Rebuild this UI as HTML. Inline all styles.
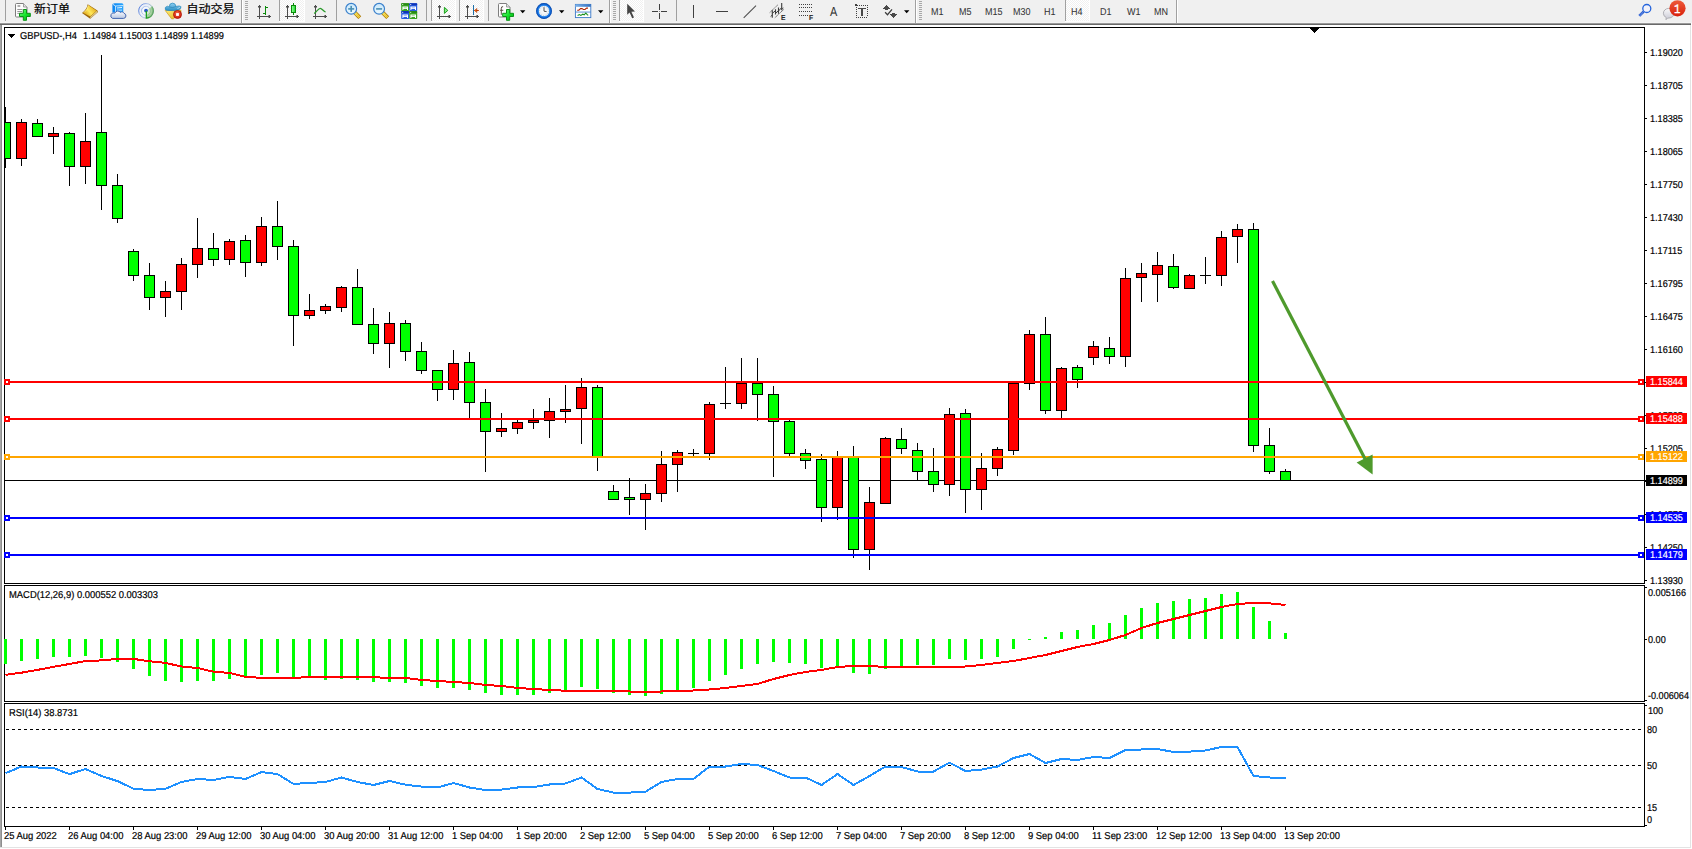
<!DOCTYPE html>
<html lang="zh-CN"><head><meta charset="utf-8"><title>GBPUSD-,H4</title>
<style>
html,body{margin:0;padding:0;background:#F0F0F0;width:1692px;height:849px;overflow:hidden}
body{position:relative;font-family:"Liberation Sans","Noto Sans CJK SC",sans-serif}
#chart{position:absolute;left:0;top:0}
.bx{position:absolute;left:1646px;width:41px;height:11px}
.t{position:absolute;font-size:10px;line-height:11px;height:11px;white-space:pre;text-rendering:geometricPrecision;transform-origin:0 0;-webkit-text-stroke:0.2px currentColor}

#tb{position:absolute;left:0;top:0;width:1692px;height:25px;overflow:hidden}
#tbsvg{position:absolute;left:0;top:0}
.cj{position:absolute;top:2.4px;height:16px;line-height:16px;font-size:12px;color:#000;white-space:pre;font-family:"Liberation Sans","Noto Sans CJK SC",sans-serif;transform:scaleY(0.95);transform-origin:0 0;-webkit-text-stroke:0.22px #000}
.tf{position:absolute;top:5px;height:12px;line-height:12px;font-size:10px;color:#333;white-space:pre;text-rendering:geometricPrecision;transform-origin:0 0;-webkit-text-stroke:0.05px #333}
</style></head>
<body>
<svg id="chart" width="1692" height="849" viewBox="0 0 1692 849" shape-rendering="crispEdges">
<rect x="0" y="25" width="1692" height="824" fill="#FFFFFF"/>
<rect x="0" y="25" width="1" height="824" fill="#A6A6A6"/>
<rect x="1" y="25" width="1" height="824" fill="#8E8E8E"/>
<rect x="1690" y="25" width="1" height="823" fill="#E3E3E3"/>
<rect x="0" y="847" width="1691" height="1" fill="#E3E3E3"/>
<rect x="0" y="848" width="1692" height="1" fill="#FFFFFF"/>
<rect x="1691" y="25" width="1" height="824" fill="#FFFFFF"/>
<rect x="4" y="27" width="1641" height="1" fill="#000"/><rect x="4" y="583" width="1641" height="1" fill="#000"/><rect x="4" y="27" width="1" height="557" fill="#000"/><rect x="1644" y="27" width="1" height="557" fill="#000"/>
<rect x="4" y="585" width="1641" height="1" fill="#000"/><rect x="4" y="701" width="1641" height="1" fill="#000"/><rect x="4" y="585" width="1" height="117" fill="#000"/><rect x="1644" y="585" width="1" height="117" fill="#000"/>
<rect x="4" y="703" width="1641" height="1" fill="#000"/><rect x="4" y="826" width="1641" height="1" fill="#000"/><rect x="4" y="703" width="1" height="124" fill="#000"/><rect x="1644" y="703" width="1" height="124" fill="#000"/>
<rect x="5" y="480" width="1641" height="1" fill="#000"/>
<clipPath id="cm"><rect x="5" y="28" width="1639" height="555"/></clipPath>
<g clip-path="url(#cm)"><rect x="5" y="107" width="1" height="61" fill="#000"/><rect x="0" y="122" width="11" height="37" fill="#000"/><rect x="1" y="123" width="9" height="35" fill="#00FF00"/><rect x="21" y="119" width="1" height="47" fill="#000"/><rect x="16" y="122" width="11" height="37" fill="#000"/><rect x="17" y="123" width="9" height="35" fill="#FF0000"/><rect x="37" y="119" width="1" height="18" fill="#000"/><rect x="32" y="123" width="11" height="14" fill="#000"/><rect x="33" y="124" width="9" height="12" fill="#00FF00"/><rect x="53" y="127" width="1" height="27" fill="#000"/><rect x="48" y="133" width="11" height="4" fill="#000"/><rect x="49" y="134" width="9" height="2" fill="#FF0000"/><rect x="69" y="132" width="1" height="54" fill="#000"/><rect x="64" y="133" width="11" height="34" fill="#000"/><rect x="65" y="134" width="9" height="32" fill="#00FF00"/><rect x="85" y="113" width="1" height="71" fill="#000"/><rect x="80" y="141" width="11" height="26" fill="#000"/><rect x="81" y="142" width="9" height="24" fill="#FF0000"/><rect x="101" y="55" width="1" height="155" fill="#000"/><rect x="96" y="132" width="11" height="54" fill="#000"/><rect x="97" y="133" width="9" height="52" fill="#00FF00"/><rect x="117" y="174" width="1" height="49" fill="#000"/><rect x="112" y="185" width="11" height="34" fill="#000"/><rect x="113" y="186" width="9" height="32" fill="#00FF00"/><rect x="133" y="249" width="1" height="32" fill="#000"/><rect x="128" y="251" width="11" height="25" fill="#000"/><rect x="129" y="252" width="9" height="23" fill="#00FF00"/><rect x="149" y="263" width="1" height="47" fill="#000"/><rect x="144" y="275" width="11" height="23" fill="#000"/><rect x="145" y="276" width="9" height="21" fill="#00FF00"/><rect x="165" y="281" width="1" height="36" fill="#000"/><rect x="160" y="291" width="11" height="7" fill="#000"/><rect x="161" y="292" width="9" height="5" fill="#FF0000"/><rect x="181" y="258" width="1" height="52" fill="#000"/><rect x="176" y="264" width="11" height="28" fill="#000"/><rect x="177" y="265" width="9" height="26" fill="#FF0000"/><rect x="197" y="218" width="1" height="60" fill="#000"/><rect x="192" y="248" width="11" height="17" fill="#000"/><rect x="193" y="249" width="9" height="15" fill="#FF0000"/><rect x="213" y="233" width="1" height="33" fill="#000"/><rect x="208" y="248" width="11" height="12" fill="#000"/><rect x="209" y="249" width="9" height="10" fill="#00FF00"/><rect x="229" y="239" width="1" height="26" fill="#000"/><rect x="224" y="241" width="11" height="19" fill="#000"/><rect x="225" y="242" width="9" height="17" fill="#FF0000"/><rect x="245" y="235" width="1" height="42" fill="#000"/><rect x="240" y="240" width="11" height="23" fill="#000"/><rect x="241" y="241" width="9" height="21" fill="#00FF00"/><rect x="261" y="217" width="1" height="49" fill="#000"/><rect x="256" y="226" width="11" height="37" fill="#000"/><rect x="257" y="227" width="9" height="35" fill="#FF0000"/><rect x="277" y="201" width="1" height="59" fill="#000"/><rect x="272" y="226" width="11" height="21" fill="#000"/><rect x="273" y="227" width="9" height="19" fill="#00FF00"/><rect x="293" y="240" width="1" height="106" fill="#000"/><rect x="288" y="246" width="11" height="70" fill="#000"/><rect x="289" y="247" width="9" height="68" fill="#00FF00"/><rect x="309" y="294" width="1" height="25" fill="#000"/><rect x="304" y="310" width="11" height="6" fill="#000"/><rect x="305" y="311" width="9" height="4" fill="#FF0000"/><rect x="325" y="304" width="1" height="10" fill="#000"/><rect x="320" y="306" width="11" height="5" fill="#000"/><rect x="321" y="307" width="9" height="3" fill="#FF0000"/><rect x="341" y="286" width="1" height="26" fill="#000"/><rect x="336" y="287" width="11" height="21" fill="#000"/><rect x="337" y="288" width="9" height="19" fill="#FF0000"/><rect x="357" y="269" width="1" height="56" fill="#000"/><rect x="352" y="287" width="11" height="38" fill="#000"/><rect x="353" y="288" width="9" height="36" fill="#00FF00"/><rect x="373" y="308" width="1" height="46" fill="#000"/><rect x="368" y="324" width="11" height="20" fill="#000"/><rect x="369" y="325" width="9" height="18" fill="#00FF00"/><rect x="389" y="312" width="1" height="56" fill="#000"/><rect x="384" y="323" width="11" height="21" fill="#000"/><rect x="385" y="324" width="9" height="19" fill="#FF0000"/><rect x="405" y="320" width="1" height="41" fill="#000"/><rect x="400" y="323" width="11" height="29" fill="#000"/><rect x="401" y="324" width="9" height="27" fill="#00FF00"/><rect x="421" y="342" width="1" height="32" fill="#000"/><rect x="416" y="351" width="11" height="20" fill="#000"/><rect x="417" y="352" width="9" height="18" fill="#00FF00"/><rect x="437" y="370" width="1" height="31" fill="#000"/><rect x="432" y="370" width="11" height="20" fill="#000"/><rect x="433" y="371" width="9" height="18" fill="#00FF00"/><rect x="453" y="350" width="1" height="50" fill="#000"/><rect x="448" y="363" width="11" height="27" fill="#000"/><rect x="449" y="364" width="9" height="25" fill="#FF0000"/><rect x="469" y="352" width="1" height="67" fill="#000"/><rect x="464" y="362" width="11" height="41" fill="#000"/><rect x="465" y="363" width="9" height="39" fill="#00FF00"/><rect x="485" y="389" width="1" height="83" fill="#000"/><rect x="480" y="402" width="11" height="30" fill="#000"/><rect x="481" y="403" width="9" height="28" fill="#00FF00"/><rect x="501" y="413" width="1" height="24" fill="#000"/><rect x="496" y="428" width="11" height="4" fill="#000"/><rect x="497" y="429" width="9" height="2" fill="#FF0000"/><rect x="517" y="420" width="1" height="14" fill="#000"/><rect x="512" y="422" width="11" height="7" fill="#000"/><rect x="513" y="423" width="9" height="5" fill="#FF0000"/><rect x="533" y="409" width="1" height="20" fill="#000"/><rect x="528" y="420" width="11" height="3" fill="#000"/><rect x="529" y="421" width="9" height="1" fill="#FF0000"/><rect x="549" y="398" width="1" height="40" fill="#000"/><rect x="544" y="411" width="11" height="10" fill="#000"/><rect x="545" y="412" width="9" height="8" fill="#FF0000"/><rect x="565" y="385" width="1" height="38" fill="#000"/><rect x="560" y="409" width="11" height="3" fill="#000"/><rect x="561" y="410" width="9" height="1" fill="#FF0000"/><rect x="581" y="378" width="1" height="66" fill="#000"/><rect x="576" y="387" width="11" height="22" fill="#000"/><rect x="577" y="388" width="9" height="20" fill="#FF0000"/><rect x="597" y="385" width="1" height="86" fill="#000"/><rect x="592" y="387" width="11" height="70" fill="#000"/><rect x="593" y="388" width="9" height="68" fill="#00FF00"/><rect x="613" y="485" width="1" height="15" fill="#000"/><rect x="608" y="491" width="11" height="9" fill="#000"/><rect x="609" y="492" width="9" height="7" fill="#00FF00"/><rect x="629" y="478" width="1" height="37" fill="#000"/><rect x="624" y="497" width="11" height="3" fill="#000"/><rect x="625" y="498" width="9" height="1" fill="#00FF00"/><rect x="645" y="484" width="1" height="46" fill="#000"/><rect x="640" y="493" width="11" height="7" fill="#000"/><rect x="641" y="494" width="9" height="5" fill="#FF0000"/><rect x="661" y="451" width="1" height="51" fill="#000"/><rect x="656" y="464" width="11" height="30" fill="#000"/><rect x="657" y="465" width="9" height="28" fill="#FF0000"/><rect x="677" y="450" width="1" height="42" fill="#000"/><rect x="672" y="452" width="11" height="13" fill="#000"/><rect x="673" y="453" width="9" height="11" fill="#FF0000"/><rect x="693" y="449" width="1" height="7" fill="#000"/><rect x="688" y="453" width="11" height="1" fill="#000"/><rect x="709" y="402" width="1" height="58" fill="#000"/><rect x="704" y="404" width="11" height="50" fill="#000"/><rect x="705" y="405" width="9" height="48" fill="#FF0000"/><rect x="725" y="367" width="1" height="42" fill="#000"/><rect x="720" y="403" width="11" height="1" fill="#000"/><rect x="741" y="358" width="1" height="51" fill="#000"/><rect x="736" y="383" width="11" height="21" fill="#000"/><rect x="737" y="384" width="9" height="19" fill="#FF0000"/><rect x="757" y="358" width="1" height="63" fill="#000"/><rect x="752" y="383" width="11" height="12" fill="#000"/><rect x="753" y="384" width="9" height="10" fill="#00FF00"/><rect x="773" y="386" width="1" height="91" fill="#000"/><rect x="768" y="394" width="11" height="28" fill="#000"/><rect x="769" y="395" width="9" height="26" fill="#00FF00"/><rect x="789" y="420" width="1" height="37" fill="#000"/><rect x="784" y="421" width="11" height="33" fill="#000"/><rect x="785" y="422" width="9" height="31" fill="#00FF00"/><rect x="805" y="449" width="1" height="20" fill="#000"/><rect x="800" y="453" width="11" height="8" fill="#000"/><rect x="801" y="454" width="9" height="6" fill="#00FF00"/><rect x="821" y="454" width="1" height="68" fill="#000"/><rect x="816" y="459" width="11" height="49" fill="#000"/><rect x="817" y="460" width="9" height="47" fill="#00FF00"/><rect x="837" y="451" width="1" height="69" fill="#000"/><rect x="832" y="457" width="11" height="51" fill="#000"/><rect x="833" y="458" width="9" height="49" fill="#FF0000"/><rect x="853" y="446" width="1" height="112" fill="#000"/><rect x="848" y="457" width="11" height="93" fill="#000"/><rect x="849" y="458" width="9" height="91" fill="#00FF00"/><rect x="869" y="487" width="1" height="83" fill="#000"/><rect x="864" y="502" width="11" height="48" fill="#000"/><rect x="865" y="503" width="9" height="46" fill="#FF0000"/><rect x="885" y="437" width="1" height="67" fill="#000"/><rect x="880" y="438" width="11" height="66" fill="#000"/><rect x="881" y="439" width="9" height="64" fill="#FF0000"/><rect x="901" y="428" width="1" height="26" fill="#000"/><rect x="896" y="439" width="11" height="10" fill="#000"/><rect x="897" y="440" width="9" height="8" fill="#00FF00"/><rect x="917" y="443" width="1" height="38" fill="#000"/><rect x="912" y="450" width="11" height="22" fill="#000"/><rect x="913" y="451" width="9" height="20" fill="#00FF00"/><rect x="933" y="448" width="1" height="44" fill="#000"/><rect x="928" y="471" width="11" height="14" fill="#000"/><rect x="929" y="472" width="9" height="12" fill="#00FF00"/><rect x="949" y="408" width="1" height="88" fill="#000"/><rect x="944" y="414" width="11" height="71" fill="#000"/><rect x="945" y="415" width="9" height="69" fill="#FF0000"/><rect x="965" y="409" width="1" height="104" fill="#000"/><rect x="960" y="413" width="11" height="77" fill="#000"/><rect x="961" y="414" width="9" height="75" fill="#00FF00"/><rect x="981" y="453" width="1" height="57" fill="#000"/><rect x="976" y="468" width="11" height="22" fill="#000"/><rect x="977" y="469" width="9" height="20" fill="#FF0000"/><rect x="997" y="447" width="1" height="29" fill="#000"/><rect x="992" y="449" width="11" height="20" fill="#000"/><rect x="993" y="450" width="9" height="18" fill="#FF0000"/><rect x="1013" y="383" width="1" height="72" fill="#000"/><rect x="1008" y="383" width="11" height="68" fill="#000"/><rect x="1009" y="384" width="9" height="66" fill="#FF0000"/><rect x="1029" y="330" width="1" height="60" fill="#000"/><rect x="1024" y="334" width="11" height="50" fill="#000"/><rect x="1025" y="335" width="9" height="48" fill="#FF0000"/><rect x="1045" y="317" width="1" height="97" fill="#000"/><rect x="1040" y="334" width="11" height="77" fill="#000"/><rect x="1041" y="335" width="9" height="75" fill="#00FF00"/><rect x="1061" y="367" width="1" height="51" fill="#000"/><rect x="1056" y="368" width="11" height="43" fill="#000"/><rect x="1057" y="369" width="9" height="41" fill="#FF0000"/><rect x="1077" y="365" width="1" height="23" fill="#000"/><rect x="1072" y="367" width="11" height="13" fill="#000"/><rect x="1073" y="368" width="9" height="11" fill="#00FF00"/><rect x="1093" y="341" width="1" height="24" fill="#000"/><rect x="1088" y="346" width="11" height="12" fill="#000"/><rect x="1089" y="347" width="9" height="10" fill="#FF0000"/><rect x="1109" y="337" width="1" height="27" fill="#000"/><rect x="1104" y="348" width="11" height="9" fill="#000"/><rect x="1105" y="349" width="9" height="7" fill="#00FF00"/><rect x="1125" y="268" width="1" height="99" fill="#000"/><rect x="1120" y="278" width="11" height="79" fill="#000"/><rect x="1121" y="279" width="9" height="77" fill="#FF0000"/><rect x="1141" y="263" width="1" height="39" fill="#000"/><rect x="1136" y="273" width="11" height="5" fill="#000"/><rect x="1137" y="274" width="9" height="3" fill="#FF0000"/><rect x="1157" y="252" width="1" height="50" fill="#000"/><rect x="1152" y="265" width="11" height="10" fill="#000"/><rect x="1153" y="266" width="9" height="8" fill="#FF0000"/><rect x="1173" y="254" width="1" height="35" fill="#000"/><rect x="1168" y="266" width="11" height="22" fill="#000"/><rect x="1169" y="267" width="9" height="20" fill="#00FF00"/><rect x="1189" y="274" width="1" height="15" fill="#000"/><rect x="1184" y="275" width="11" height="14" fill="#000"/><rect x="1185" y="276" width="9" height="12" fill="#FF0000"/><rect x="1205" y="257" width="1" height="27" fill="#000"/><rect x="1200" y="275" width="11" height="1" fill="#000"/><rect x="1221" y="231" width="1" height="55" fill="#000"/><rect x="1216" y="237" width="11" height="39" fill="#000"/><rect x="1217" y="238" width="9" height="37" fill="#FF0000"/><rect x="1237" y="224" width="1" height="39" fill="#000"/><rect x="1232" y="229" width="11" height="8" fill="#000"/><rect x="1233" y="230" width="9" height="6" fill="#FF0000"/><rect x="1253" y="223" width="1" height="229" fill="#000"/><rect x="1248" y="229" width="11" height="217" fill="#000"/><rect x="1249" y="230" width="9" height="215" fill="#00FF00"/><rect x="1269" y="428" width="1" height="46" fill="#000"/><rect x="1264" y="445" width="11" height="27" fill="#000"/><rect x="1265" y="446" width="9" height="25" fill="#00FF00"/><rect x="1285" y="469" width="1" height="12" fill="#000"/><rect x="1280" y="471" width="11" height="10" fill="#000"/><rect x="1281" y="472" width="9" height="8" fill="#00FF00"/></g>
<rect x="5" y="381" width="1639" height="2" fill="#FF0000"/>
<rect x="4" y="379" width="6" height="6" fill="#FF0000"/>
<rect x="6" y="381" width="2" height="2" fill="#FFF"/>
<rect x="1638" y="379" width="6" height="6" fill="#FF0000"/>
<rect x="1640" y="381" width="2" height="2" fill="#FFF"/>
<rect x="5" y="418" width="1639" height="2" fill="#FF0000"/>
<rect x="4" y="416" width="6" height="6" fill="#FF0000"/>
<rect x="6" y="418" width="2" height="2" fill="#FFF"/>
<rect x="1638" y="416" width="6" height="6" fill="#FF0000"/>
<rect x="1640" y="418" width="2" height="2" fill="#FFF"/>
<rect x="5" y="456" width="1639" height="2" fill="#FFA500"/>
<rect x="4" y="454" width="6" height="6" fill="#FFA500"/>
<rect x="6" y="456" width="2" height="2" fill="#FFF"/>
<rect x="1638" y="454" width="6" height="6" fill="#FFA500"/>
<rect x="1640" y="456" width="2" height="2" fill="#FFF"/>
<rect x="5" y="517" width="1639" height="2" fill="#0000FF"/>
<rect x="4" y="515" width="6" height="6" fill="#0000FF"/>
<rect x="6" y="517" width="2" height="2" fill="#FFF"/>
<rect x="1638" y="515" width="6" height="6" fill="#0000FF"/>
<rect x="1640" y="517" width="2" height="2" fill="#FFF"/>
<rect x="5" y="554" width="1639" height="2" fill="#0000FF"/>
<rect x="4" y="552" width="6" height="6" fill="#0000FF"/>
<rect x="6" y="554" width="2" height="2" fill="#FFF"/>
<rect x="1638" y="552" width="6" height="6" fill="#0000FF"/>
<rect x="1640" y="554" width="2" height="2" fill="#FFF"/>
<g shape-rendering="geometricPrecision"><line x1="1272.5" y1="281" x2="1365.1" y2="459" stroke="#4E9A2C" stroke-width="3.2"/><polygon points="1356.6,462.6 1372.6,454.6 1372.6,474.5" fill="#4E9A2C"/></g>
<rect x="8" y="34" width="7" height="1" fill="#000"/>
<rect x="9" y="35" width="5" height="1" fill="#000"/>
<rect x="10" y="36" width="3" height="1" fill="#000"/>
<rect x="11" y="37" width="1" height="1" fill="#000"/>
<rect x="1310" y="28" width="9" height="1" fill="#000"/>
<rect x="1311" y="29" width="7" height="1" fill="#000"/>
<rect x="1312" y="30" width="5" height="1" fill="#000"/>
<rect x="1313" y="31" width="3" height="1" fill="#000"/>
<rect x="1314" y="32" width="1" height="1" fill="#000"/>
<rect x="1645" y="52" width="2" height="1" fill="#000"/>
<rect x="1645" y="85" width="2" height="1" fill="#000"/>
<rect x="1645" y="118" width="2" height="1" fill="#000"/>
<rect x="1645" y="151" width="2" height="1" fill="#000"/>
<rect x="1645" y="184" width="2" height="1" fill="#000"/>
<rect x="1645" y="217" width="2" height="1" fill="#000"/>
<rect x="1645" y="250" width="2" height="1" fill="#000"/>
<rect x="1645" y="283" width="2" height="1" fill="#000"/>
<rect x="1645" y="316" width="2" height="1" fill="#000"/>
<rect x="1645" y="349" width="2" height="1" fill="#000"/>
<rect x="1645" y="382" width="2" height="1" fill="#000"/>
<rect x="1645" y="415" width="2" height="1" fill="#000"/>
<rect x="1645" y="448" width="2" height="1" fill="#000"/>
<rect x="1645" y="481" width="2" height="1" fill="#000"/>
<rect x="1645" y="514" width="2" height="1" fill="#000"/>
<rect x="1645" y="547" width="2" height="1" fill="#000"/>
<rect x="1645" y="580" width="2" height="1" fill="#000"/>
<rect x="1645" y="587" width="2" height="1" fill="#000"/>
<rect x="1645" y="639" width="2" height="1" fill="#000"/>
<rect x="1645" y="700" width="2" height="1" fill="#000"/>
<rect x="1645" y="705" width="2" height="1" fill="#000"/>
<rect x="1645" y="825" width="2" height="1" fill="#000"/>
<rect x="4" y="639" width="3" height="25" fill="#00FF00"/>
<rect x="20" y="639" width="3" height="22" fill="#00FF00"/>
<rect x="36" y="639" width="3" height="20" fill="#00FF00"/>
<rect x="52" y="639" width="3" height="18" fill="#00FF00"/>
<rect x="68" y="639" width="3" height="18" fill="#00FF00"/>
<rect x="84" y="639" width="3" height="17" fill="#00FF00"/>
<rect x="100" y="639" width="3" height="19" fill="#00FF00"/>
<rect x="116" y="639" width="3" height="23" fill="#00FF00"/>
<rect x="132" y="639" width="3" height="30" fill="#00FF00"/>
<rect x="148" y="639" width="3" height="37" fill="#00FF00"/>
<rect x="164" y="639" width="3" height="42" fill="#00FF00"/>
<rect x="180" y="639" width="3" height="43" fill="#00FF00"/>
<rect x="196" y="639" width="3" height="42" fill="#00FF00"/>
<rect x="212" y="639" width="3" height="42" fill="#00FF00"/>
<rect x="228" y="639" width="3" height="40" fill="#00FF00"/>
<rect x="244" y="639" width="3" height="38" fill="#00FF00"/>
<rect x="260" y="639" width="3" height="36" fill="#00FF00"/>
<rect x="276" y="639" width="3" height="34" fill="#00FF00"/>
<rect x="292" y="639" width="3" height="38" fill="#00FF00"/>
<rect x="308" y="639" width="3" height="39" fill="#00FF00"/>
<rect x="324" y="639" width="3" height="41" fill="#00FF00"/>
<rect x="340" y="639" width="3" height="40" fill="#00FF00"/>
<rect x="356" y="639" width="3" height="41" fill="#00FF00"/>
<rect x="372" y="639" width="3" height="43" fill="#00FF00"/>
<rect x="388" y="639" width="3" height="43" fill="#00FF00"/>
<rect x="404" y="639" width="3" height="44" fill="#00FF00"/>
<rect x="420" y="639" width="3" height="47" fill="#00FF00"/>
<rect x="436" y="639" width="3" height="49" fill="#00FF00"/>
<rect x="452" y="639" width="3" height="49" fill="#00FF00"/>
<rect x="468" y="639" width="3" height="51" fill="#00FF00"/>
<rect x="484" y="639" width="3" height="54" fill="#00FF00"/>
<rect x="500" y="639" width="3" height="56" fill="#00FF00"/>
<rect x="516" y="639" width="3" height="56" fill="#00FF00"/>
<rect x="532" y="639" width="3" height="56" fill="#00FF00"/>
<rect x="548" y="639" width="3" height="54" fill="#00FF00"/>
<rect x="564" y="639" width="3" height="52" fill="#00FF00"/>
<rect x="580" y="639" width="3" height="48" fill="#00FF00"/>
<rect x="596" y="639" width="3" height="50" fill="#00FF00"/>
<rect x="612" y="639" width="3" height="54" fill="#00FF00"/>
<rect x="628" y="639" width="3" height="56" fill="#00FF00"/>
<rect x="644" y="639" width="3" height="57" fill="#00FF00"/>
<rect x="660" y="639" width="3" height="55" fill="#00FF00"/>
<rect x="676" y="639" width="3" height="52" fill="#00FF00"/>
<rect x="692" y="639" width="3" height="49" fill="#00FF00"/>
<rect x="708" y="639" width="3" height="42" fill="#00FF00"/>
<rect x="724" y="639" width="3" height="36" fill="#00FF00"/>
<rect x="740" y="639" width="3" height="30" fill="#00FF00"/>
<rect x="756" y="639" width="3" height="25" fill="#00FF00"/>
<rect x="772" y="639" width="3" height="23" fill="#00FF00"/>
<rect x="788" y="639" width="3" height="24" fill="#00FF00"/>
<rect x="804" y="639" width="3" height="25" fill="#00FF00"/>
<rect x="820" y="639" width="3" height="29" fill="#00FF00"/>
<rect x="836" y="639" width="3" height="29" fill="#00FF00"/>
<rect x="852" y="639" width="3" height="34" fill="#00FF00"/>
<rect x="868" y="639" width="3" height="35" fill="#00FF00"/>
<rect x="884" y="639" width="3" height="30" fill="#00FF00"/>
<rect x="900" y="639" width="3" height="27" fill="#00FF00"/>
<rect x="916" y="639" width="3" height="26" fill="#00FF00"/>
<rect x="932" y="639" width="3" height="26" fill="#00FF00"/>
<rect x="948" y="639" width="3" height="20" fill="#00FF00"/>
<rect x="964" y="639" width="3" height="21" fill="#00FF00"/>
<rect x="980" y="639" width="3" height="20" fill="#00FF00"/>
<rect x="996" y="639" width="3" height="18" fill="#00FF00"/>
<rect x="1012" y="639" width="3" height="10" fill="#00FF00"/>
<rect x="1028" y="639" width="3" height="1" fill="#00FF00"/>
<rect x="1044" y="637" width="3" height="2" fill="#00FF00"/>
<rect x="1060" y="632" width="3" height="7" fill="#00FF00"/>
<rect x="1076" y="630" width="3" height="9" fill="#00FF00"/>
<rect x="1092" y="625" width="3" height="14" fill="#00FF00"/>
<rect x="1108" y="623" width="3" height="16" fill="#00FF00"/>
<rect x="1124" y="615" width="3" height="24" fill="#00FF00"/>
<rect x="1140" y="608" width="3" height="31" fill="#00FF00"/>
<rect x="1156" y="603" width="3" height="36" fill="#00FF00"/>
<rect x="1172" y="601" width="3" height="38" fill="#00FF00"/>
<rect x="1188" y="599" width="3" height="40" fill="#00FF00"/>
<rect x="1204" y="598" width="3" height="41" fill="#00FF00"/>
<rect x="1220" y="594" width="3" height="45" fill="#00FF00"/>
<rect x="1236" y="592" width="3" height="47" fill="#00FF00"/>
<rect x="1252" y="607" width="3" height="32" fill="#00FF00"/>
<rect x="1268" y="621" width="3" height="18" fill="#00FF00"/>
<rect x="1284" y="633" width="3" height="6" fill="#00FF00"/>
<clipPath id="c2"><rect x="5" y="586" width="1639" height="115"/></clipPath>
<polyline clip-path="url(#c2)" points="5.5,674.8 21.5,672.7 37.5,669.9 53.5,666.8 69.5,664.0 85.5,661.0 101.5,660.4 117.5,658.9 133.5,658.9 149.5,661.3 165.5,662.9 181.5,666.5 197.5,668.0 213.5,671.7 229.5,672.9 245.5,676.9 261.5,677.8 277.5,677.8 293.5,677.8 309.5,677.2 325.5,677.2 341.5,677.2 357.5,677.2 373.5,677.2 389.5,678.0 405.5,678.0 421.5,680.0 437.5,681.0 453.5,682.0 469.5,683.0 485.5,685.0 501.5,686.0 517.5,688.0 533.5,689.0 549.5,690.0 565.5,690.7 581.5,690.7 597.5,690.7 613.5,690.9 629.5,691.5 645.5,692.0 661.5,691.5 677.5,690.9 693.5,690.5 709.5,689.5 725.5,688.0 741.5,686.0 757.5,684.0 773.5,679.0 789.5,675.0 805.5,672.0 821.5,670.0 837.5,667.0 853.5,666.0 869.5,666.0 885.5,667.0 901.5,667.0 917.5,667.0 933.5,667.0 949.5,667.0 965.5,666.5 981.5,665.0 997.5,663.0 1013.5,661.0 1029.5,658.0 1045.5,655.0 1061.5,651.0 1077.5,647.0 1093.5,644.0 1109.5,640.0 1125.5,635.0 1141.5,628.0 1157.5,623.0 1173.5,619.0 1189.5,615.0 1205.5,611.0 1221.5,607.0 1237.5,604.0 1253.5,603.0 1269.5,603.3 1285.5,605.0" fill="none" stroke="#FF0000" stroke-width="2" stroke-linejoin="round" shape-rendering="crispEdges"/>
<line x1="6" y1="729.5" x2="1641" y2="729.5" stroke="#000" stroke-width="1" stroke-dasharray="3 3"/>
<line x1="6" y1="765.5" x2="1641" y2="765.5" stroke="#000" stroke-width="1" stroke-dasharray="3 3"/>
<line x1="6" y1="807.5" x2="1641" y2="807.5" stroke="#000" stroke-width="1" stroke-dasharray="3 3"/>
<clipPath id="c3"><rect x="5" y="704" width="1639" height="122"/></clipPath>
<polyline clip-path="url(#c3)" points="5.5,773.2 21.5,766.5 37.5,767.5 53.5,768.0 69.5,774.1 85.5,769.0 101.5,776.0 117.5,781.1 133.5,788.7 149.5,790.0 165.5,788.7 181.5,782.0 197.5,779.0 213.5,780.0 229.5,776.9 245.5,779.0 261.5,772.0 277.5,774.1 293.5,783.9 309.5,783.0 325.5,782.0 341.5,777.5 357.5,782.0 373.5,785.0 389.5,781.0 405.5,784.7 421.5,786.6 437.5,787.5 453.5,783.0 469.5,787.5 485.5,790.0 501.5,789.6 517.5,787.5 533.5,787.0 549.5,784.5 565.5,783.5 581.5,777.5 597.5,789.0 613.5,792.6 629.5,792.6 645.5,791.7 661.5,782.0 677.5,779.0 693.5,779.0 709.5,766.5 725.5,766.5 741.5,764.0 757.5,765.0 773.5,771.0 789.5,777.5 805.5,777.5 821.5,785.0 837.5,774.0 853.5,785.0 869.5,776.0 885.5,766.5 901.5,767.0 917.5,771.5 933.5,771.5 949.5,762.6 965.5,771.0 981.5,769.6 997.5,766.5 1013.5,758.0 1029.5,754.0 1045.5,763.0 1061.5,759.0 1077.5,760.0 1093.5,757.0 1109.5,758.0 1125.5,750.0 1141.5,749.5 1157.5,749.0 1173.5,752.0 1189.5,751.6 1205.5,750.5 1221.5,747.0 1237.5,747.0 1253.5,776.0 1269.5,777.5 1285.5,777.5" fill="none" stroke="#1E90FF" stroke-width="2" stroke-linejoin="round" shape-rendering="crispEdges"/>
<rect x="5" y="827" width="1" height="3" fill="#000"/>
<rect x="69" y="827" width="1" height="3" fill="#000"/>
<rect x="133" y="827" width="1" height="3" fill="#000"/>
<rect x="197" y="827" width="1" height="3" fill="#000"/>
<rect x="261" y="827" width="1" height="3" fill="#000"/>
<rect x="325" y="827" width="1" height="3" fill="#000"/>
<rect x="389" y="827" width="1" height="3" fill="#000"/>
<rect x="453" y="827" width="1" height="3" fill="#000"/>
<rect x="517" y="827" width="1" height="3" fill="#000"/>
<rect x="581" y="827" width="1" height="3" fill="#000"/>
<rect x="645" y="827" width="1" height="3" fill="#000"/>
<rect x="709" y="827" width="1" height="3" fill="#000"/>
<rect x="773" y="827" width="1" height="3" fill="#000"/>
<rect x="837" y="827" width="1" height="3" fill="#000"/>
<rect x="901" y="827" width="1" height="3" fill="#000"/>
<rect x="965" y="827" width="1" height="3" fill="#000"/>
<rect x="1029" y="827" width="1" height="3" fill="#000"/>
<rect x="1093" y="827" width="1" height="3" fill="#000"/>
<rect x="1157" y="827" width="1" height="3" fill="#000"/>
<rect x="1221" y="827" width="1" height="3" fill="#000"/>
<rect x="1285" y="827" width="1" height="3" fill="#000"/>
</svg>
<div id="labels">
<span class="t" style="left:1649.95px;top:48px;color:#000;transform:scaleX(0.91);">1.19020</span>
<span class="t" style="left:1649.95px;top:81px;color:#000;transform:scaleX(0.91);">1.18705</span>
<span class="t" style="left:1649.95px;top:114px;color:#000;transform:scaleX(0.91);">1.18385</span>
<span class="t" style="left:1649.95px;top:147px;color:#000;transform:scaleX(0.91);">1.18065</span>
<span class="t" style="left:1649.95px;top:180px;color:#000;transform:scaleX(0.91);">1.17750</span>
<span class="t" style="left:1649.95px;top:213px;color:#000;transform:scaleX(0.91);">1.17430</span>
<span class="t" style="left:1649.95px;top:246px;color:#000;transform:scaleX(0.91);">1.17115</span>
<span class="t" style="left:1649.95px;top:279px;color:#000;transform:scaleX(0.91);">1.16795</span>
<span class="t" style="left:1649.95px;top:312px;color:#000;transform:scaleX(0.91);">1.16475</span>
<span class="t" style="left:1649.95px;top:345px;color:#000;transform:scaleX(0.91);">1.16160</span>
<span class="t" style="left:1649.95px;top:378px;color:#000;transform:scaleX(0.91);">1.15840</span>
<span class="t" style="left:1649.95px;top:411px;color:#000;transform:scaleX(0.91);">1.15525</span>
<span class="t" style="left:1649.95px;top:444px;color:#000;transform:scaleX(0.91);">1.15205</span>
<span class="t" style="left:1649.95px;top:477px;color:#000;transform:scaleX(0.91);">1.14885</span>
<span class="t" style="left:1649.95px;top:510px;color:#000;transform:scaleX(0.91);">1.14570</span>
<span class="t" style="left:1649.95px;top:543px;color:#000;transform:scaleX(0.91);">1.14250</span>
<span class="t" style="left:1649.95px;top:576px;color:#000;transform:scaleX(0.91);">1.13930</span>
<div class="bx" style="top:376px;background:#FF0000"></div>
<span class="t" style="left:1649.95px;top:377px;color:#FFF;transform:scaleX(0.91);">1.15844</span>
<div class="bx" style="top:413px;background:#FF0000"></div>
<span class="t" style="left:1649.95px;top:414px;color:#FFF;transform:scaleX(0.91);">1.15488</span>
<div class="bx" style="top:451px;background:#FFA500"></div>
<span class="t" style="left:1649.95px;top:452px;color:#FFF;transform:scaleX(0.91);">1.15122</span>
<div class="bx" style="top:512px;background:#0000FF"></div>
<span class="t" style="left:1649.95px;top:513px;color:#FFF;transform:scaleX(0.91);">1.14535</span>
<div class="bx" style="top:549px;background:#0000FF"></div>
<span class="t" style="left:1649.95px;top:550px;color:#FFF;transform:scaleX(0.91);">1.14179</span>
<div class="bx" style="top:475px;background:#000"></div>
<span class="t" style="left:1649.95px;top:476px;color:#FFF;transform:scaleX(0.91);">1.14899</span>
<span class="t" style="left:1647.95px;top:588px;color:#000;transform:scaleX(0.91);">0.005166</span>
<span class="t" style="left:1647.95px;top:635px;color:#000;transform:scaleX(0.91);">0.00</span>
<span class="t" style="left:1647.95px;top:691px;color:#000;transform:scaleX(0.91);">-0.006064</span>
<span class="t" style="left:1648.45px;top:706px;color:#000;transform:scaleX(0.91);">100</span>
<span class="t" style="left:1647.45px;top:725px;color:#000;transform:scaleX(0.91);">80</span>
<span class="t" style="left:1647.45px;top:761px;color:#000;transform:scaleX(0.91);">50</span>
<span class="t" style="left:1647.45px;top:803px;color:#000;transform:scaleX(0.91);">15</span>
<span class="t" style="left:1647.45px;top:815px;color:#000;transform:scaleX(0.91);">0</span>
<span class="t" style="left:4.436px;top:831px;color:#000;transform:scaleX(0.94);">25 Aug 2022</span>
<span class="t" style="left:68.436px;top:831px;color:#000;transform:scaleX(0.94);">26 Aug 04:00</span>
<span class="t" style="left:132.436px;top:831px;color:#000;transform:scaleX(0.94);">28 Aug 23:00</span>
<span class="t" style="left:196.436px;top:831px;color:#000;transform:scaleX(0.94);">29 Aug 12:00</span>
<span class="t" style="left:260.436px;top:831px;color:#000;transform:scaleX(0.94);">30 Aug 04:00</span>
<span class="t" style="left:324.436px;top:831px;color:#000;transform:scaleX(0.94);">30 Aug 20:00</span>
<span class="t" style="left:388.436px;top:831px;color:#000;transform:scaleX(0.94);">31 Aug 12:00</span>
<span class="t" style="left:452.436px;top:831px;color:#000;transform:scaleX(0.94);">1 Sep 04:00</span>
<span class="t" style="left:516.436px;top:831px;color:#000;transform:scaleX(0.94);">1 Sep 20:00</span>
<span class="t" style="left:580.436px;top:831px;color:#000;transform:scaleX(0.94);">2 Sep 12:00</span>
<span class="t" style="left:644.436px;top:831px;color:#000;transform:scaleX(0.94);">5 Sep 04:00</span>
<span class="t" style="left:708.436px;top:831px;color:#000;transform:scaleX(0.94);">5 Sep 20:00</span>
<span class="t" style="left:772.436px;top:831px;color:#000;transform:scaleX(0.94);">6 Sep 12:00</span>
<span class="t" style="left:836.436px;top:831px;color:#000;transform:scaleX(0.94);">7 Sep 04:00</span>
<span class="t" style="left:900.436px;top:831px;color:#000;transform:scaleX(0.94);">7 Sep 20:00</span>
<span class="t" style="left:964.436px;top:831px;color:#000;transform:scaleX(0.94);">8 Sep 12:00</span>
<span class="t" style="left:1028.44px;top:831px;color:#000;transform:scaleX(0.94);">9 Sep 04:00</span>
<span class="t" style="left:1092.44px;top:831px;color:#000;transform:scaleX(0.94);">11 Sep 23:00</span>
<span class="t" style="left:1156.44px;top:831px;color:#000;transform:scaleX(0.94);">12 Sep 12:00</span>
<span class="t" style="left:1220.44px;top:831px;color:#000;transform:scaleX(0.94);">13 Sep 04:00</span>
<span class="t" style="left:1284.44px;top:831px;color:#000;transform:scaleX(0.94);">13 Sep 20:00</span>
<span class="t" style="left:19.642px;top:31px;color:#000;transform:scaleX(0.93);">GBPUSD-,H4</span>
<span class="t" style="left:83.2468px;top:31px;color:#000;transform:scaleX(0.922);">1.14984 1.15003 1.14899 1.14899</span>
<span class="t" style="left:9.436px;top:590px;color:#000;transform:scaleX(0.94);">MACD(12,26,9) 0.000552 0.003303</span>
<span class="t" style="left:9.436px;top:708px;color:#000;transform:scaleX(0.94);">RSI(14) 38.8731</span>
</div>
<div id="tb">
<svg id="tbsvg" width="1692" height="25" viewBox="0 0 1692 25" shape-rendering="crispEdges"><defs><pattern id="chk" width="2" height="2" patternUnits="userSpaceOnUse"><rect width="2" height="2" fill="#fff"/><rect width="1" height="1" fill="#f0f0f0"/><rect x="1" y="1" width="1" height="1" fill="#f0f0f0"/></pattern><linearGradient id="gplus" x1="0" y1="0" x2="1" y2="1"><stop offset="0" stop-color="#7dff8a"/><stop offset="0.5" stop-color="#16e52c"/><stop offset="1" stop-color="#07a514"/></linearGradient><linearGradient id="gcloud" x1="0" y1="0" x2="0" y2="1"><stop offset="0" stop-color="#ffffff"/><stop offset="1" stop-color="#b9c7e2"/></linearGradient><linearGradient id="gsrv" x1="0" y1="0" x2="1" y2="0"><stop offset="0" stop-color="#0a84f0"/><stop offset="1" stop-color="#2aa6ff"/></linearGradient><linearGradient id="ghat" x1="0" y1="0" x2="0" y2="1"><stop offset="0" stop-color="#8fd0f2"/><stop offset="1" stop-color="#2b8fc4"/></linearGradient><linearGradient id="gface" x1="0" y1="0" x2="1" y2="1"><stop offset="0" stop-color="#fff27a"/><stop offset="1" stop-color="#e0a818"/></linearGradient><radialGradient id="gred" cx="0.45" cy="0.3" r="0.8"><stop offset="0" stop-color="#f0603a"/><stop offset="1" stop-color="#d01808"/></radialGradient><linearGradient id="gbadge" x1="0" y1="0" x2="0" y2="1"><stop offset="0" stop-color="#ee5a3a"/><stop offset="1" stop-color="#d8200c"/></linearGradient><linearGradient id="gcandle" x1="0" y1="0" x2="1" y2="0"><stop offset="0" stop-color="#9dffa0"/><stop offset="1" stop-color="#12d824"/></linearGradient><linearGradient id="glens" x1="0" y1="0" x2="0" y2="1"><stop offset="0" stop-color="#c6e6fb"/><stop offset="1" stop-color="#eefaff"/></linearGradient><linearGradient id="ggold" x1="0" y1="0" x2="1" y2="0"><stop offset="0" stop-color="#f7e060"/><stop offset="1" stop-color="#d89c10"/></linearGradient><radialGradient id="gclock" cx="0.5" cy="0.5" r="0.5"><stop offset="0" stop-color="#ffffff"/><stop offset="0.62" stop-color="#e8eef4"/><stop offset="0.7" stop-color="#2d8cf0"/><stop offset="0.9" stop-color="#0a5fd0"/><stop offset="1" stop-color="#0848a8"/></radialGradient><linearGradient id="gtplt" x1="0" y1="0" x2="1" y2="0"><stop offset="0" stop-color="#7fb4ea"/><stop offset="1" stop-color="#2f6fc0"/></linearGradient><linearGradient id="gchat" x1="0" y1="0" x2="0" y2="1"><stop offset="0" stop-color="#fafafa"/><stop offset="1" stop-color="#c8c8d4"/></linearGradient><radialGradient id="gsig2" gradientUnits="userSpaceOnUse" cx="146" cy="11" r="7.7"><stop offset="0" stop-color="#f4faf0"/><stop offset="0.55" stop-color="#b4dca8"/><stop offset="1" stop-color="#58a850"/></radialGradient><linearGradient id="gbook2" gradientUnits="userSpaceOnUse" x1="84" y1="15" x2="95" y2="6"><stop offset="0" stop-color="#d89a10"/><stop offset="0.45" stop-color="#ffe85a"/><stop offset="1" stop-color="#e0a414"/></linearGradient><radialGradient id="gsig3" gradientUnits="userSpaceOnUse" cx="146" cy="11" r="7.7"><stop offset="0" stop-color="#ffffff"/><stop offset="0.7" stop-color="#eef2fa"/><stop offset="1" stop-color="#dfe6f4"/></radialGradient><linearGradient id="gring" gradientUnits="userSpaceOnUse" x1="138" y1="8" x2="154" y2="14"><stop offset="0" stop-color="#3a68d4" stop-opacity="0.9"/><stop offset="0.45" stop-color="#7a9ce0" stop-opacity="0.45"/><stop offset="0.75" stop-color="#6aa878" stop-opacity="0.6"/><stop offset="1" stop-color="#3a8a48" stop-opacity="0.9"/></linearGradient></defs><rect x="0" y="0" width="1692" height="23" fill="#F0F0F0"/><rect x="0" y="22" width="1692" height="1" fill="#F4F4F4"/><rect x="0" y="23" width="1691" height="1" fill="#9A9A9A"/><rect x="0" y="24" width="1691" height="1" fill="#696969"/><rect x="1691" y="23" width="1" height="2" fill="#FFFFFF"/><rect x="5" y="0" width="1" height="21" fill="#A0A0A0"/><rect x="241" y="0" width="1" height="23" fill="#A0A0A0"/><rect x="242" y="0" width="1" height="23" fill="#FFFFFF"/><rect x="245" y="1" width="3" height="1" fill="#A8A8A8"/><rect x="245" y="3" width="3" height="1" fill="#A8A8A8"/><rect x="245" y="5" width="3" height="1" fill="#A8A8A8"/><rect x="245" y="7" width="3" height="1" fill="#A8A8A8"/><rect x="245" y="9" width="3" height="1" fill="#A8A8A8"/><rect x="245" y="11" width="3" height="1" fill="#A8A8A8"/><rect x="245" y="13" width="3" height="1" fill="#A8A8A8"/><rect x="245" y="15" width="3" height="1" fill="#A8A8A8"/><rect x="245" y="17" width="3" height="1" fill="#A8A8A8"/><rect x="245" y="19" width="3" height="1" fill="#A8A8A8"/><rect x="336" y="0" width="1" height="21" fill="#A0A0A0"/><rect x="426" y="0" width="1" height="21" fill="#A0A0A0"/><rect x="488" y="0" width="1" height="21" fill="#A0A0A0"/><rect x="609" y="0" width="1" height="23" fill="#A0A0A0"/><rect x="610" y="0" width="1" height="23" fill="#FFFFFF"/><rect x="613" y="1" width="3" height="1" fill="#A8A8A8"/><rect x="613" y="3" width="3" height="1" fill="#A8A8A8"/><rect x="613" y="5" width="3" height="1" fill="#A8A8A8"/><rect x="613" y="7" width="3" height="1" fill="#A8A8A8"/><rect x="613" y="9" width="3" height="1" fill="#A8A8A8"/><rect x="613" y="11" width="3" height="1" fill="#A8A8A8"/><rect x="613" y="13" width="3" height="1" fill="#A8A8A8"/><rect x="613" y="15" width="3" height="1" fill="#A8A8A8"/><rect x="613" y="17" width="3" height="1" fill="#A8A8A8"/><rect x="613" y="19" width="3" height="1" fill="#A8A8A8"/><rect x="676" y="0" width="1" height="21" fill="#A0A0A0"/><rect x="915" y="0" width="1" height="23" fill="#A0A0A0"/><rect x="916" y="0" width="1" height="23" fill="#FFFFFF"/><rect x="919" y="1" width="3" height="1" fill="#A8A8A8"/><rect x="919" y="3" width="3" height="1" fill="#A8A8A8"/><rect x="919" y="5" width="3" height="1" fill="#A8A8A8"/><rect x="919" y="7" width="3" height="1" fill="#A8A8A8"/><rect x="919" y="9" width="3" height="1" fill="#A8A8A8"/><rect x="919" y="11" width="3" height="1" fill="#A8A8A8"/><rect x="919" y="13" width="3" height="1" fill="#A8A8A8"/><rect x="919" y="15" width="3" height="1" fill="#A8A8A8"/><rect x="919" y="17" width="3" height="1" fill="#A8A8A8"/><rect x="919" y="19" width="3" height="1" fill="#A8A8A8"/><rect x="1176" y="0" width="1" height="23" fill="#A0A0A0"/><rect x="1177" y="0" width="1" height="23" fill="#FFFFFF"/><rect x="280" y="0" width="24" height="21" fill="url(#chk)"/><rect x="279" y="0" width="1" height="21" fill="#A0A0A0"/><rect x="279" y="21" width="26" height="1" fill="#FFFFFF"/><rect x="304" y="0" width="1" height="21" fill="#FFFFFF"/><rect x="432" y="0" width="23" height="21" fill="url(#chk)"/><rect x="431" y="0" width="1" height="21" fill="#A0A0A0"/><rect x="431" y="21" width="25" height="1" fill="#FFFFFF"/><rect x="455" y="0" width="1" height="21" fill="#FFFFFF"/><rect x="460" y="0" width="23" height="21" fill="url(#chk)"/><rect x="459" y="0" width="1" height="21" fill="#A0A0A0"/><rect x="459" y="21" width="25" height="1" fill="#FFFFFF"/><rect x="483" y="0" width="1" height="21" fill="#FFFFFF"/><rect x="620" y="0" width="23" height="21" fill="url(#chk)"/><rect x="619" y="0" width="1" height="21" fill="#A0A0A0"/><rect x="619" y="21" width="25" height="1" fill="#FFFFFF"/><rect x="643" y="0" width="1" height="21" fill="#FFFFFF"/><rect x="1066" y="0" width="23" height="21" fill="url(#chk)"/><rect x="1065" y="0" width="1" height="21" fill="#A0A0A0"/><rect x="1065" y="21" width="25" height="1" fill="#FFFFFF"/><rect x="1089" y="0" width="1" height="21" fill="#FFFFFF"/><rect x="259" y="5" width="1" height="14" fill="#4d4d4d"/><rect x="257" y="16" width="14" height="1" fill="#4d4d4d"/><rect x="258" y="6" width="3" height="1" fill="#4d4d4d"/><rect x="258" y="7" width="1" height="1" fill="#9a9a9a"/><rect x="260" y="7" width="1" height="1" fill="#9a9a9a"/><rect x="269" y="15" width="1" height="3" fill="#4d4d4d"/><rect x="268" y="15" width="1" height="1" fill="#9a9a9a"/><rect x="268" y="17" width="1" height="1" fill="#9a9a9a"/><rect x="287" y="5" width="1" height="14" fill="#4d4d4d"/><rect x="285" y="16" width="14" height="1" fill="#4d4d4d"/><rect x="286" y="6" width="3" height="1" fill="#4d4d4d"/><rect x="286" y="7" width="1" height="1" fill="#9a9a9a"/><rect x="288" y="7" width="1" height="1" fill="#9a9a9a"/><rect x="297" y="15" width="1" height="3" fill="#4d4d4d"/><rect x="296" y="15" width="1" height="1" fill="#9a9a9a"/><rect x="296" y="17" width="1" height="1" fill="#9a9a9a"/><rect x="315" y="5" width="1" height="14" fill="#4d4d4d"/><rect x="313" y="16" width="14" height="1" fill="#4d4d4d"/><rect x="314" y="6" width="3" height="1" fill="#4d4d4d"/><rect x="314" y="7" width="1" height="1" fill="#9a9a9a"/><rect x="316" y="7" width="1" height="1" fill="#9a9a9a"/><rect x="325" y="15" width="1" height="3" fill="#4d4d4d"/><rect x="324" y="15" width="1" height="1" fill="#9a9a9a"/><rect x="324" y="17" width="1" height="1" fill="#9a9a9a"/><rect x="439" y="5" width="1" height="14" fill="#4d4d4d"/><rect x="437" y="16" width="14" height="1" fill="#4d4d4d"/><rect x="438" y="6" width="3" height="1" fill="#4d4d4d"/><rect x="438" y="7" width="1" height="1" fill="#9a9a9a"/><rect x="440" y="7" width="1" height="1" fill="#9a9a9a"/><rect x="449" y="15" width="1" height="3" fill="#4d4d4d"/><rect x="448" y="15" width="1" height="1" fill="#9a9a9a"/><rect x="448" y="17" width="1" height="1" fill="#9a9a9a"/><rect x="467" y="5" width="1" height="14" fill="#4d4d4d"/><rect x="465" y="16" width="14" height="1" fill="#4d4d4d"/><rect x="466" y="6" width="3" height="1" fill="#4d4d4d"/><rect x="466" y="7" width="1" height="1" fill="#9a9a9a"/><rect x="468" y="7" width="1" height="1" fill="#9a9a9a"/><rect x="477" y="15" width="1" height="3" fill="#4d4d4d"/><rect x="476" y="15" width="1" height="1" fill="#9a9a9a"/><rect x="476" y="17" width="1" height="1" fill="#9a9a9a"/><rect x="265" y="6" width="1" height="9" fill="#0a8a0a"/><rect x="266" y="7" width="2" height="1" fill="#0a8a0a"/><rect x="263" y="13" width="2" height="1" fill="#0a8a0a"/><rect x="293" y="3" width="1" height="12" fill="#0a8a0a"/><rect x="291.5" y="5.5" width="4" height="7" fill="url(#gcandle)" stroke="#0a8a0a" stroke-width="1"/><path d="M314.2,13.6 C316.5,12 318.5,8.2 320.3,8.3 C322,8.4 323.5,11.5 325.6,12" fill="none" stroke="#2a9a2a" stroke-width="1.2" shape-rendering="geometricPrecision"/><polygon points="444.4,7.4 447.8,10.4 444.4,13.4" fill="#86e886" stroke="#0a9a0a" stroke-width="0.9" stroke-linejoin="round" shape-rendering="geometricPrecision"/><rect x="473" y="5" width="1" height="10" fill="#1f6fa8"/><g shape-rendering="geometricPrecision"><path d="M474.5,10.5 L478.8,10.5" stroke="#c03800" stroke-width="1.1"/><polygon points="474.3,10.5 477,8.4 476.4,10.5 477,12.6" fill="#f06a08" stroke="#a83000" stroke-width="0.5"/></g><g shape-rendering="geometricPrecision"><path d="M16.5,3.5 h7.0 l3.5,3.5 v9.0 q0,1 -1,1 h-9.5 q-1,0 -1,-1 v-11.5 q0,-1 1,-1 z" fill="#fdfdfd" stroke="#7e7e7e" stroke-width="1"/><path d="M23.5,3.5 v3.5 h3.5" fill="#e4e4e4" stroke="#8a8a8a" stroke-width="0.8"/><rect x="17.5" y="5.3" width="2.8" height="1.4" fill="#8a8a8a"/><rect x="17.3" y="9.1" width="5.2" height="0.9" fill="#8c8c8c"/><rect x="17.3" y="11.0" width="4.9" height="0.9" fill="#8c8c8c"/><rect x="17.3" y="12.899999999999999" width="4.6000000000000005" height="0.9" fill="#8c8c8c"/><path d="M23.3,9.5 h3.2 v3.8 h3.8 v3.2 h-3.8 v3.8 h-3.2 v-3.8 h-3.8 v-3.2 h3.8 z" fill="url(#gplus)" stroke="#0a9416" stroke-width="1" stroke-linejoin="round"/><path d="M87.7,4.2 Q86.9,9.4 82,12.9 L90.2,18.8 L98.1,11.9 L97.4,10.4 z" fill="#9c6608"/><path d="M90.3,17 L96.9,10.9 L97.7,12 L90.4,18.3 z" fill="#f0e4b4"/><path d="M90.5,17.7 L97.3,11.6" stroke="#b08a30" stroke-width="0.4" fill="none"/><path d="M88.1,5 Q87.4,9.6 83,12.7 L90.2,16.6 L96.6,10.7 z" fill="url(#gbook2)"/><path d="M88.3,5.6 Q87.8,9.8 84,12.5" fill="none" stroke="#fff6b0" stroke-width="0.7" opacity="0.8"/><path d="M112.4,4 L114.6,3.2 L122.4,3.2 L123.3,4.4 L123.3,12.5 L112.4,12.5 z" fill="url(#gsrv)"/><path d="M112.6,4.2 L115.6,6 L115.6,12.5 M115.6,6 L123.2,5.6" fill="none" stroke="#d8f0ff" stroke-width="0.9"/><rect x="117" y="7.2" width="5" height="1.1" fill="#e8f6ff" transform="rotate(-6 119.5 7.7)"/><rect x="117" y="9.6" width="5" height="1" fill="#bfe4ff"/><path d="M112.6,18.4 h11 a2.6,2.6 0 0 0 0.4,-5.1 a2.3,2.3 0 0 0 -3.6,-0.9 a3.2,3.2 0 0 0 -5.6,0.7 a2.7,2.7 0 0 0 -2.2,5.3 z" fill="url(#gcloud)" stroke="#4466b0" stroke-width="1"/><circle cx="146" cy="10.8" r="7.8" fill="url(#gsig3)"/><path d="M146,10.8 L146,18.7 A7.9,7.9 0 0 0 152.4,6.2 z" fill="url(#gsig2)" opacity="0.8"/><circle cx="146" cy="10.8" r="7.3" fill="none" stroke="url(#gring)" stroke-width="1"/><circle cx="146" cy="10.8" r="4.5" fill="none" stroke="url(#gring)" stroke-width="1" opacity="0.8"/><circle cx="146" cy="10.6" r="1.9" fill="#2a5cc8"/><path d="M145.7,11 h1.3 v6.6 q3,-0.4 4.6,-1.8 q-2,2.6 -5.9,3 z" fill="#1ea01e"/><path d="M165.2,10.4 L180.8,10 L181,12.4 L173.4,18.8 L171.6,18.8 z" fill="url(#gface)" stroke="#d09a14" stroke-width="0.7"/><path d="M165.3,9.4 Q164.4,7 167.4,6.2 Q168.6,6.6 169.2,6.8 Q169.4,3.2 172.4,3.1 Q175.4,3 176,6.4 Q179.6,5.4 181,6.6 Q181.4,9 178.4,10 Q173,11 167.6,10.4 Q165.8,10.2 165.3,9.4 z" fill="url(#ghat)" stroke="#2a88ba" stroke-width="0.7"/><path d="M169.2,6.9 Q172.6,8.4 176,6.5" fill="none" stroke="#1f78ac" stroke-width="0.7" opacity="0.8"/><path d="M177.4,8.6 Q179.6,7.8 180.2,6.9" fill="none" stroke="#e4f6ff" stroke-width="0.7" opacity="0.9"/><circle cx="177.5" cy="14.5" r="4" fill="url(#gred)" stroke="#a81004" stroke-width="0.8"/><rect x="176.1" y="13.1" width="2.8" height="2.8" fill="#ffffff"/><path d="M354.59999999999997,12.4 L359.8,17.6" stroke="#a87808" stroke-width="4" stroke-linecap="butt"/><path d="M354.8,12.6 L359.59999999999997,17.4" stroke="url(#ggold)" stroke-width="2.6" stroke-linecap="butt"/><path d="M354.8,12.6 L359.59999999999997,17.4" stroke="#f8e458" stroke-width="2.4" stroke-dasharray="0.7 0.7"/><circle cx="351.2" cy="8.8" r="5.4" fill="url(#glens)" stroke="#3a80cc" stroke-width="1.2"/><rect x="348.2" y="8.1" width="6" height="1.6" fill="#4a90b4"/><rect x="350.4" y="5.9" width="1.6" height="6" fill="#4a90b4"/><path d="M382.5,12.4 L387.70000000000005,17.6" stroke="#a87808" stroke-width="4" stroke-linecap="butt"/><path d="M382.70000000000005,12.6 L387.5,17.4" stroke="url(#ggold)" stroke-width="2.6" stroke-linecap="butt"/><path d="M382.70000000000005,12.6 L387.5,17.4" stroke="#f8e458" stroke-width="2.4" stroke-dasharray="0.7 0.7"/><circle cx="379.1" cy="8.8" r="5.4" fill="url(#glens)" stroke="#3a80cc" stroke-width="1.2"/><rect x="376.1" y="8.1" width="6" height="1.6" fill="#4a90b4"/><rect x="401.2" y="3.2" width="8" height="7.9" rx="0.8" fill="#3aa422"/><rect x="401.2" y="3.2" width="8" height="2" rx="0.8" fill="#2a8a14"/><rect x="402.2" y="4.0" width="1" height="1" fill="#e8f4e8"/><path d="M402.4,10.100000000000001 v-3.6 h5.6 v3.6 h-1 v-1 h-3.6 v1 z" fill="#ffffff"/><rect x="403.59999999999997" y="7.4" width="3.2" height="0.9" fill="#3aa422" opacity="0.55"/><rect x="409.2" y="3.2" width="8" height="7.9" rx="0.8" fill="#2a5ee0"/><rect x="409.2" y="3.2" width="8" height="2" rx="0.8" fill="#1034b8"/><rect x="410.2" y="4.0" width="1" height="1" fill="#e8f4e8"/><path d="M410.4,10.100000000000001 v-3.6 h5.6 v3.6 h-1 v-1 h-3.6 v1 z" fill="#ffffff"/><rect x="411.59999999999997" y="7.4" width="3.2" height="0.9" fill="#2a5ee0" opacity="0.55"/><rect x="401.2" y="11.1" width="8" height="7.9" rx="0.8" fill="#2a5ee0"/><rect x="401.2" y="11.1" width="8" height="2" rx="0.8" fill="#1034b8"/><rect x="402.2" y="11.9" width="1" height="1" fill="#e8f4e8"/><path d="M402.4,18.0 v-3.6 h5.6 v3.6 h-1 v-1 h-3.6 v1 z" fill="#ffffff"/><rect x="403.59999999999997" y="15.3" width="3.2" height="0.9" fill="#2a5ee0" opacity="0.55"/><rect x="409.2" y="11.1" width="8" height="7.9" rx="0.8" fill="#3aa422"/><rect x="409.2" y="11.1" width="8" height="2" rx="0.8" fill="#2a8a14"/><rect x="410.2" y="11.9" width="1" height="1" fill="#e8f4e8"/><path d="M410.4,18.0 v-3.6 h5.6 v3.6 h-1 v-1 h-3.6 v1 z" fill="#ffffff"/><rect x="411.59999999999997" y="15.3" width="3.2" height="0.9" fill="#3aa422" opacity="0.55"/><path d="M499.5,3.5 h7.0 l3.5,3.5 v9.0 q0,1 -1,1 h-9.5 q-1,0 -1,-1 v-11.5 q0,-1 1,-1 z" fill="#fdfdfd" stroke="#7e7e7e" stroke-width="1"/><path d="M506.5,3.5 v3.5 h3.5" fill="#e4e4e4" stroke="#8a8a8a" stroke-width="0.8"/><path d="M503.1,6.7 q-1.8,-0.4 -1.8,1.6 v6.5 M500.1,10.3 h3.2" fill="none" stroke="#5a5046" stroke-width="1"/><path d="M506.5,9.5 h3.2 v3.8 h3.8 v3.2 h-3.8 v3.8 h-3.2 v-3.8 h-3.8 v-3.2 h3.8 z" fill="url(#gplus)" stroke="#0a9416" stroke-width="1" stroke-linejoin="round"/><polygon points="520,10.2 525.4,10.2 522.7,13.2" fill="#000"/><polygon points="559,10.2 564.4,10.2 561.7,13.2" fill="#000"/><polygon points="598,10.2 603.4,10.2 600.7,13.2" fill="#000"/><polygon points="904,10.2 909.4,10.2 906.7,13.2" fill="#000"/><circle cx="544" cy="11" r="7.9" fill="url(#gclock)"/><circle cx="544" cy="11" r="7.4" fill="none" stroke="#0a50b8" stroke-width="0.8"/><path d="M544,7.2 V11.2 L546.6,11.6" fill="none" stroke="#3a3a3a" stroke-width="0.9"/><circle cx="544" cy="11" r="4.6" fill="none" stroke="#9aa4b0" stroke-width="0.7" stroke-dasharray="0.6 1.8"/><rect x="575.4" y="4.4" width="15.4" height="13.2" fill="#ffffff" stroke="#3a78c8" stroke-width="0.9"/><rect x="575.4" y="4.4" width="15.4" height="2.4" fill="url(#gtplt)"/><rect x="575.4" y="11.6" width="15.4" height="0.9" fill="#4a86d0"/><path d="M577.2,10.2 h1.6 l1.8,-1.6 h1.4 l1.4,0.9 h1.6 l1.6,-1.4 h1.4" fill="none" stroke="#b02808" stroke-width="1.1"/><path d="M577.6,15.6 l1.8,-1 l1.4,0.8 l2,-1.2 l1.4,0.6 l1.6,-1.8 l1.2,1.4 l1.2,1" fill="none" stroke="#18901c" stroke-width="1.1"/><path d="M627.2,3.8 L627.2,14.8 L629.6,12.6 L632.2,18.2 L634,17.4 L631.4,11.8 L635,11.4 z" fill="#454545"/><path d="M769.7,12.6 L777.8,4.9 M774.8,17.8 L784,9.2" fill="none" stroke="#555" stroke-width="0.9" stroke-dasharray="1.2 0.5"/><path d="M772.3,10.2 V17.8 M775.5,9.2 V14.5 M778.5,7.4 V13.8 M781.7,3.1 V10.2" fill="none" stroke="#3c3c3c" stroke-width="1.1"/><path d="M770.6,16.6 L772.3,15 M772.3,13.4 L775.5,10.6 M775.5,13.6 L778.5,10.4 M778.5,11 L781.7,7.6 M781.7,9.4 L783.4,8" fill="none" stroke="#3c3c3c" stroke-width="1"/><path d="M743.7,17.8 L756,5.6" stroke="#505050" stroke-width="1.1"/><path d="M885.1,12.3 L887.5,14.7 L892,9.3" fill="none" stroke="#3c3c3c" stroke-width="1.25"/><path d="M1643.6,11.6 L1639.3,15.9" stroke="#2a5cd0" stroke-width="2.7"/><path d="M1642.6,12.6 L1639.3,15.9" stroke="#8fb0f0" stroke-width="1.1" stroke-dasharray="0.8 0.8"/><circle cx="1646.8" cy="8.5" r="4" fill="#f2f2fa" stroke="#2464dc" stroke-width="1.3"/><path d="M1663.4,13.2 a5.4,4.8 0 1 1 5.6,4.8 l-1.4,0.1 l-1.6,1.6 l0.2,-2.2 a5,4.6 0 0 1 -2.8,-4.3 z" fill="url(#gchat)" stroke="#a8a8ae" stroke-width="0.9"/><circle cx="1677.5" cy="8.3" r="8.1" fill="url(#gbadge)"/></g><rect x="659" y="4" width="1" height="6" fill="#404040"/><rect x="659" y="13" width="1" height="6" fill="#404040"/><rect x="652" y="11" width="6" height="1" fill="#404040"/><rect x="661" y="11" width="6" height="1" fill="#404040"/><rect x="659" y="11" width="1" height="1" fill="#8a8a8a"/><rect x="693" y="5" width="1" height="13" fill="#404040"/><rect x="716" y="11" width="12" height="1" fill="#404040"/><rect x="799" y="4" width="1" height="1" fill="#404040"/><rect x="801" y="4" width="1" height="1" fill="#404040"/><rect x="803" y="4" width="1" height="1" fill="#404040"/><rect x="805" y="4" width="1" height="1" fill="#404040"/><rect x="807" y="4" width="1" height="1" fill="#404040"/><rect x="809" y="4" width="1" height="1" fill="#404040"/><rect x="811" y="4" width="1" height="1" fill="#404040"/><rect x="799" y="7" width="1" height="1" fill="#404040"/><rect x="801" y="7" width="1" height="1" fill="#404040"/><rect x="803" y="7" width="1" height="1" fill="#404040"/><rect x="805" y="7" width="1" height="1" fill="#404040"/><rect x="807" y="7" width="1" height="1" fill="#404040"/><rect x="809" y="7" width="1" height="1" fill="#404040"/><rect x="811" y="7" width="1" height="1" fill="#404040"/><rect x="799" y="11" width="1" height="1" fill="#404040"/><rect x="801" y="11" width="1" height="1" fill="#404040"/><rect x="803" y="11" width="1" height="1" fill="#404040"/><rect x="805" y="11" width="1" height="1" fill="#404040"/><rect x="807" y="11" width="1" height="1" fill="#404040"/><rect x="809" y="11" width="1" height="1" fill="#404040"/><rect x="811" y="11" width="1" height="1" fill="#404040"/><rect x="799" y="15" width="1" height="1" fill="#404040"/><rect x="801" y="15" width="1" height="1" fill="#404040"/><rect x="803" y="15" width="1" height="1" fill="#404040"/><rect x="805" y="15" width="1" height="1" fill="#404040"/><rect x="807" y="15" width="1" height="1" fill="#404040"/><rect x="859" y="5" width="1" height="1" fill="#404040"/><rect x="861" y="5" width="1" height="1" fill="#404040"/><rect x="863" y="5" width="1" height="1" fill="#404040"/><rect x="865" y="5" width="1" height="1" fill="#404040"/><rect x="867" y="5" width="1" height="1" fill="#404040"/><rect x="856" y="17" width="1" height="1" fill="#404040"/><rect x="858" y="17" width="1" height="1" fill="#404040"/><rect x="860" y="17" width="1" height="1" fill="#404040"/><rect x="862" y="17" width="1" height="1" fill="#404040"/><rect x="864" y="17" width="1" height="1" fill="#404040"/><rect x="866" y="17" width="1" height="1" fill="#404040"/><rect x="856" y="7" width="1" height="1" fill="#404040"/><rect x="856" y="9" width="1" height="1" fill="#404040"/><rect x="856" y="11" width="1" height="1" fill="#404040"/><rect x="856" y="13" width="1" height="1" fill="#404040"/><rect x="856" y="15" width="1" height="1" fill="#404040"/><rect x="867" y="7" width="1" height="1" fill="#404040"/><rect x="867" y="9" width="1" height="1" fill="#404040"/><rect x="867" y="11" width="1" height="1" fill="#404040"/><rect x="867" y="13" width="1" height="1" fill="#404040"/><rect x="867" y="15" width="1" height="1" fill="#404040"/><rect x="855" y="4" width="2" height="2" fill="#404040"/><rect x="857" y="5" width="1" height="1" fill="#404040"/><rect x="858" y="8" width="8" height="1" fill="#484848"/><rect x="861" y="9" width="2" height="7" fill="#484848"/><rect x="886" y="5" width="1" height="1" fill="#4a4a4a"/><rect x="885" y="6" width="3" height="1" fill="#4a4a4a"/><rect x="884" y="7" width="5" height="1" fill="#4a4a4a"/><rect x="883" y="8" width="7" height="1" fill="#4a4a4a"/><rect x="885" y="9" width="3" height="1" fill="#4a4a4a"/><rect x="892" y="13" width="3" height="1" fill="#4a4a4a"/><rect x="890" y="14" width="7" height="1" fill="#4a4a4a"/><rect x="891" y="15" width="5" height="1" fill="#4a4a4a"/><rect x="892" y="16" width="3" height="1" fill="#4a4a4a"/><rect x="893" y="17" width="1" height="1" fill="#4a4a4a"/></svg>
<span class="cj" style="left:34px">新订单</span>
<span class="cj" style="left:186.5px">自动交易</span>
<span class="tf" style="left:930.5px;top:6.8px;transform:scaleX(0.9)">M1</span>
<span class="tf" style="left:958.5px;top:6.8px;transform:scaleX(0.9)">M5</span>
<span class="tf" style="left:984.5px;top:6.8px;transform:scaleX(0.9)">M15</span>
<span class="tf" style="left:1012.5px;top:6.8px;transform:scaleX(0.9)">M30</span>
<span class="tf" style="left:1043.7px;top:6.8px;transform:scaleX(0.9)">H1</span>
<span class="tf" style="left:1070.5px;top:6.8px;transform:scaleX(0.9)">H4</span>
<span class="tf" style="left:1099.6px;top:6.8px;transform:scaleX(0.9)">D1</span>
<span class="tf" style="left:1127px;top:6.8px;transform:scaleX(0.9)">W1</span>
<span class="tf" style="left:1153.7px;top:6.8px;transform:scaleX(0.9)">MN</span>
<span class="tf" style="left:780.6px;top:11.9px;font-size:7.2px;font-weight:bold;color:#2a2a2a;-webkit-text-stroke:0.15px #2a2a2a;transform:scaleX(0.92)">E</span>
<span class="tf" style="left:808.6px;top:11.9px;font-size:7.2px;font-weight:bold;color:#2a2a2a;-webkit-text-stroke:0.15px #2a2a2a;transform:scaleX(0.92)">F</span>
<span class="tf" style="left:829.5px;top:4.5px;font-size:13px;line-height:14px;height:14px;transform:scaleX(0.84)">A</span>
<span class="tf" style="left:1673.6px;top:3.8px;font-size:13px;line-height:12px;color:#fff;font-family:'Liberation Mono',monospace;-webkit-text-stroke:0.35px #fff;transform:scaleX(0.82)">1</span>
</div>
</body></html>
